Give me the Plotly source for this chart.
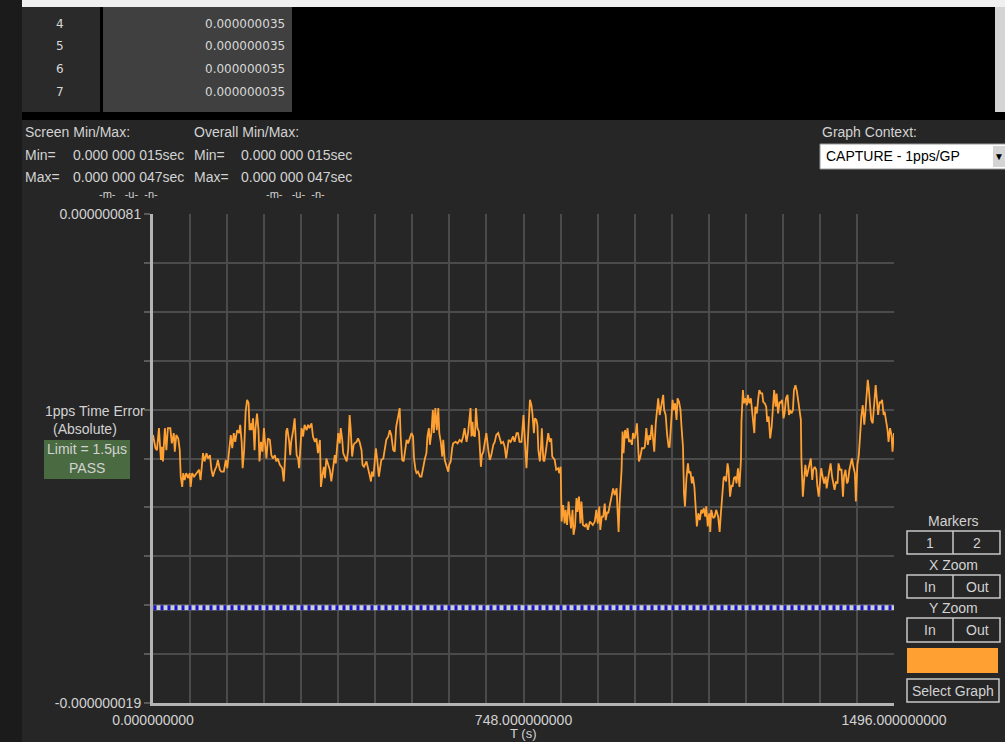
import plotly.graph_objects as go

W, H = 1005, 742

# ---------------- data ----------------
t_s = [0, 2, 5, 8, 10, 12, 16, 18, 20, 24, 27, 30, 35, 38, 42, 44, 47, 51, 54, 56, 59, 61, 64, 67, 71, 74, 76, 79, 83, 88,
       93, 96, 98, 101, 104, 108, 111, 115, 118, 121, 125, 128, 131, 135, 138, 143, 147, 150, 152, 155, 157, 160, 163, 166,
       170, 174, 176, 179, 181, 184, 187, 190, 193, 195, 197, 199, 202, 205, 207, 210, 213, 215, 218, 221, 224, 226, 229,
       232, 236, 239, 242, 246, 249, 252, 256, 261, 264, 267, 269, 271, 275, 277, 279, 283, 286, 290, 293, 295, 298, 300,
       303, 306, 310, 313, 316, 320, 323, 327, 330, 333, 337, 339, 342, 345, 347, 350, 353, 357, 360, 364, 367,
       369, 374, 377, 379, 382, 384, 387, 391, 394, 397, 399, 402, 405, 407, 411, 414, 417, 421, 423, 426, 431, 434, 438,
       440, 442, 445, 448, 450, 453, 456, 458, 461, 465, 468, 471, 475, 478, 481, 485, 488, 491, 495, 498, 500, 503, 506,
       508, 512, 515, 518, 522, 525, 527, 530, 532, 535, 539, 542, 545, 549, 552, 554, 557, 559, 562, 565, 567, 570, 573,
       576, 578, 581, 584, 586, 589, 592, 596, 598, 601, 604, 606, 611, 615, 619, 623, 626, 629, 633, 636, 639, 641, 643,
       645, 647, 650, 652, 655, 658, 660, 662, 664, 667, 670, 673, 677, 680, 683, 687, 690, 693, 697, 700, 703, 707, 710,
       713, 716, 718, 722, 727, 730, 734, 737, 740,
       744, 748, 751, 754, 756, 759, 761, 764, 766, 769, 771, 774, 776, 778, 781, 783, 785, 788, 790, 793, 796, 798, 801,
       804, 806, 808, 811, 814, 818, 820, 823, 825, 828, 831, 833, 836, 839, 841, 844, 847, 849, 852, 855, 857, 860, 863,
       865, 868, 872, 875, 878, 882, 885, 888, 892, 895, 898, 901, 903, 906, 909, 912, 914, 917, 919, 922, 926, 929, 932,
       936, 938, 940, 942, 946, 948, 950, 953, 956, 958, 961, 964, 967, 969, 972, 975, 977, 979, 981, 984, 987, 991, 993,
       996, 999, 1002, 1004, 1007, 1010, 1012, 1015, 1018, 1020, 1023, 1026, 1030, 1032, 1035, 1038, 1041, 1043, 1046,
       1049, 1051, 1054, 1057, 1059, 1062, 1065, 1067, 1070, 1072, 1074, 1077, 1080, 1082, 1085, 1088, 1090, 1093, 1096,
       1098, 1101, 1104, 1107, 1109, 1112, 1115, 1117, 1120, 1123,
       1125, 1127, 1131, 1134, 1137, 1141, 1144, 1146, 1149, 1152, 1154, 1157, 1160, 1162, 1165, 1168, 1170, 1173, 1176,
       1178, 1181, 1184, 1187, 1188, 1191, 1193, 1196, 1199, 1201, 1204, 1207, 1209, 1212, 1214, 1216, 1219, 1222, 1224,
       1227, 1230, 1232, 1235, 1238, 1240, 1243, 1246, 1249, 1251, 1254, 1257, 1259, 1262, 1265, 1267, 1270, 1273, 1275,
       1278, 1281, 1284, 1286, 1289, 1292, 1294, 1297, 1300, 1302, 1305, 1308, 1309, 1312, 1314, 1317, 1320, 1323, 1325,
       1328, 1331, 1333, 1336, 1339, 1341, 1344, 1347, 1349, 1352, 1355, 1358, 1360, 1363, 1366, 1368, 1371, 1374, 1376,
       1379, 1382, 1384, 1387, 1390, 1393, 1395, 1398, 1401, 1403, 1406, 1409, 1411, 1414, 1417, 1419, 1422, 1425, 1428,
       1430, 1433, 1436, 1438, 1441, 1443, 1445, 1448, 1450, 1453, 1456, 1459, 1461, 1464, 1467, 1469, 1472, 1475, 1477,
       1480, 1483, 1485, 1488, 1491, 1493, 1495, 1496]

err_ns = [35.8, 34.4, 33.1, 32.7, 35.1, 37.2, 30.7, 33.4, 30.4, 37.2, 32.7, 37.2, 37.2, 34.1, 36.2, 32.4, 35.8, 35.1, 32.7,
          27.3, 25.2, 28.0, 26.6, 28.0, 27.0, 28.0, 25.2, 28.0, 27.3, 28.0, 28.7, 26.6, 29.3, 32.1, 30.4, 32.1, 31.0, 31.7,
          28.7, 27.3, 28.7, 29.3, 30.7, 28.7, 28.3, 28.3, 30.7, 29.0, 31.0, 33.8, 35.8, 33.1, 36.2, 34.4, 36.8, 36.2, 37.9,
          34.4, 29.0, 32.7, 40.6, 43.0, 42.3, 36.8, 38.2, 36.8, 39.2, 32.7, 37.2, 40.2, 36.8, 30.4, 34.4, 32.4, 37.2, 34.4,
          31.0, 35.1, 34.8, 31.7, 31.0, 31.7, 30.4, 31.0, 29.7, 29.0, 26.3, 31.7, 36.5, 37.2, 34.4, 31.7, 34.4, 36.8, 39.2,
          31.7, 31.0, 29.0, 34.4, 37.2, 35.5, 37.9, 36.8, 37.9, 37.2, 38.2, 35.5, 34.4, 35.1, 32.1, 34.8, 25.2, 27.6, 29.3,
          27.0, 31.0, 30.0, 28.7, 26.3, 29.0, 31.7,
          30.0, 36.2, 34.1, 37.2, 34.8, 32.1, 31.4, 30.4, 32.7, 39.9, 37.2, 31.4, 33.8, 34.1, 34.4, 35.1, 34.4, 32.7, 29.7,
          29.3, 30.4, 29.3, 27.3, 26.3, 28.3, 27.3, 31.0, 33.1, 30.4, 27.3, 28.7, 30.7, 31.0, 33.4, 34.8, 35.5, 36.8, 35.8,
          32.7, 32.4, 37.5, 39.6, 41.3, 35.5, 30.7, 30.4, 31.7, 34.8, 34.1, 35.1, 36.2, 35.5, 31.0, 28.7, 28.0, 28.3, 27.3,
          27.3, 29.3, 31.0, 32.1, 35.5, 37.2, 33.8, 36.2, 40.9, 36.2, 41.3, 36.8, 41.3, 36.2, 34.4, 31.4, 34.8, 30.7, 29.7,
          28.3, 29.7, 30.4, 33.1, 34.1, 34.4, 34.1, 34.8, 34.4, 35.5, 37.2, 34.4, 36.2, 39.2, 41.3, 35.5, 38.5, 35.8, 35.5,
          41.3, 37.2, 36.5, 32.7, 29.3, 31.7, 32.4, 34.4, 36.2, 32.7, 30.7, 31.7, 33.8, 34.4, 35.8, 36.2, 34.8, 34.1, 34.4,
          33.4, 31.0, 34.1, 34.8, 34.4, 35.5, 34.4, 36.2, 36.2, 34.4,
          34.4, 39.9, 34.4, 29.0, 33.1, 40.6, 43.0, 41.9, 40.2, 36.2, 39.2, 38.9, 37.9, 32.7, 30.4, 32.7, 37.2, 30.7, 30.4,
          32.4, 34.8, 36.2, 34.4, 35.1, 31.4, 31.0, 30.7, 28.7, 29.0, 28.0, 29.3, 18.1, 21.5, 17.7, 20.5, 17.4, 22.2, 19.8,
          16.7, 20.5, 15.4, 17.1, 22.9, 20.1, 23.2, 17.7, 22.2, 17.4, 17.1, 17.7, 16.4, 18.1, 17.7, 17.4, 18.1, 20.5, 17.7,
          21.2, 16.4, 19.1, 19.1, 21.8, 18.4, 20.1, 19.8, 21.5, 22.9, 24.9, 23.5, 24.9, 20.1, 16.0, 21.8, 28.7, 36.5, 32.1,
          36.8, 35.1, 37.2, 34.4, 34.8, 33.8, 36.2, 35.1, 36.5, 38.2, 34.4, 30.4, 31.4, 33.1, 33.1, 33.4, 37.2, 33.8, 35.8,
          34.8, 37.9, 34.4, 32.4, 38.2, 40.9, 43.3, 39.9, 41.6, 44.0, 40.9, 39.9, 35.8, 33.4, 33.4, 39.6, 43.0, 40.9, 42.3,
          38.9, 43.3, 42.6, 40.9, 37.5, 33.4, 23.9, 21.2, 27.0, 30.0, 28.0, 28.3, 25.9, 27.3, 25.2, 19.1, 17.1, 19.8, 18.4,
          20.5, 19.8, 20.8, 19.1, 21.2, 17.1, 19.8,
          16.0, 20.5, 18.8, 19.1, 20.5, 19.1, 16.0, 19.1, 22.5, 27.0, 27.3, 26.3, 30.0, 28.7, 23.2, 25.6, 25.2, 27.0, 27.3,
          25.9, 29.0, 25.2, 30.7, 38.5, 45.0, 42.3, 43.3, 41.9, 44.0, 42.3, 43.3, 40.9, 38.2, 36.2, 41.6, 40.2, 43.3, 45.0,
          44.3, 44.3, 42.6, 42.3, 41.6, 38.5, 39.6, 35.1, 37.5, 39.9, 45.0, 41.6, 44.3, 40.2, 42.6, 42.3, 43.0, 39.2, 40.2,
          43.3, 44.0, 39.9, 40.9, 40.2, 40.9, 45.0, 46.0, 44.7, 43.3, 41.6, 38.9, 31.0, 23.2, 25.9, 29.7, 27.3, 28.7, 29.7,
          31.0, 26.6, 28.7, 29.3, 28.7, 25.6, 23.2, 26.6, 29.0, 27.3, 25.9, 27.3, 24.9, 27.0, 28.7, 30.0, 27.3, 25.2, 24.6,
          26.3, 25.9, 30.0, 28.7, 28.7, 23.2, 27.3, 28.7, 25.9, 26.3, 28.7, 30.4, 31.0, 29.3, 28.0, 22.2, 29.7, 31.7, 37.2,
          39.6, 41.9, 37.9, 40.2, 45.0, 47.1, 45.4, 40.9, 38.9, 38.2, 42.3, 46.0, 43.6, 39.9, 42.6, 42.3, 43.0, 39.9, 40.6,
          38.9, 36.8, 34.4, 37.2, 35.8, 32.4, 35.1, 36.2]

ref_level_ns = [0.5]          # blue/white reference line
y_min_ns, y_max_ns = -19, 81  # screen range
x_max_s = 1496

table_rows = ["4", "5", "6", "7"]
table_vals = ["0.000000035", "0.000000035", "0.000000035", "0.000000035"]

y_grid = [(y_min_ns + 10 * i) * 1e-9 for i in range(11)]
y_text = ["-0.000000019"] + [""] * 9 + ["0.000000081"]
x_grid = [x_max_s * i / 20 for i in range(21)]
x_text = ["" for _ in range(21)]
x_text[0], x_text[10], x_text[20] = "0.000000000", "748.000000000", "1496.000000000"

# ---------------- figure ----------------
FONT = "Liberation Sans, Arial, sans-serif"
TXT = "#d2d2d2"
ORANGE = "#ffa033"

def X(px):
    return px / W

def Y(py):
    return 1 - py / H

fig = go.Figure()
ref_y = [ref_level_ns[0] * 1e-9] * 2
fig.add_trace(go.Scatter(x=[1, x_max_s], y=ref_y, mode="lines",
                         line=dict(color="#cfcfcf", width=5), hoverinfo="skip", showlegend=False))
fig.add_trace(go.Scatter(x=[1, x_max_s], y=ref_y, mode="lines",
                         line=dict(color="#1414c8", width=5, dash="3px,4px"), hoverinfo="skip", showlegend=False))
fig.add_trace(go.Scatter(x=t_s, y=[v * 1e-9 for v in err_ns], mode="lines",
                         line=dict(color=ORANGE, width=1.8), showlegend=False))

shapes = []

def rect(x0, y0, x1, y1, fill=None, line=None, lw=1):
    shapes.append(dict(type="rect", xref="paper", yref="paper",
                       x0=X(x0), x1=X(x1), y0=Y(y1), y1=Y(y0),
                       fillcolor=fill if fill else "rgba(0,0,0,0)",
                       line=dict(color=line if line else "rgba(0,0,0,0)", width=lw if line else 0),
                       layer="below" if fill and not line else "above"))

def vline(x, y0, y1, color, lw=1):
    shapes.append(dict(type="line", xref="paper", yref="paper", x0=X(x), x1=X(x), y0=Y(y0), y1=Y(y1),
                       line=dict(color=color, width=lw)))

# top table area
rect(0, 0, W, 120, fill="#000000")
rect(22, 0, W, 7, fill="#f0f0f0")
rect(22, 7, 100, 112, fill="#2a2a2a")
rect(103, 7, 292, 112, fill="#404040")
rect(995, 7, W, 112, fill="#d4d4d4")
# left strip
rect(0, 120, 22, H, fill="#1b1b1b")
rect(0, 0, 22, 120, fill="#1b1b1b")

# dropdown
rect(820, 144, W, 169, fill="#ffffff")
rect(820, 144, W + 2, 169, line="#9a9a9a", lw=1)
rect(993, 146, W, 167, fill="#d4d4d4")

# green limit box
rect(44, 440, 130, 479, fill="#4a6a42")

# right-hand buttons
for (y0, y1) in [(531, 554), (575, 598), (618, 642)]:
    rect(907, y0, 1000, y1, line="#c8c8c8", lw=1.5)
    vline(953, y0, y1, "#c8c8c8", 1.5)
rect(907, 648, 998, 673, fill=ORANGE)
rect(907, 679, 999, 702, line="#c8c8c8", lw=1.5)

annotations = []

def text(s, x, y, size=14, color=TXT, anchor="left", family=FONT):
    annotations.append(dict(text=s, x=X(x), y=Y(y), xref="paper", yref="paper", showarrow=False,
                            xanchor=anchor, yanchor="middle", font=dict(family=family, size=size, color=color)))

TFONT = "DejaVu Sans, Verdana, sans-serif"
row_y = [24, 46, 69, 92]
for r, v, y in zip(table_rows, table_vals, row_y):
    text(r, 60, y, size=12, color="#d8d8d8", anchor="center", family=TFONT)
    text(v, 287, y, size=12, color="#d8d8d8", anchor="right", family=TFONT)

text("Screen Min/Max:", 23, 132)
text("Overall Min/Max:", 192, 132)
text("Min=", 23, 155)
text("0.000 000 015sec", 71, 155)
text("Max=", 23, 177)
text("0.000 000 047sec", 71, 177)
text("Min=", 192, 155)
text("0.000 000 015sec", 239, 155)
text("Max=", 192, 177)
text("0.000 000 047sec", 239, 177)
text("-m-   -u-  -n-", 97, 194, size=11)
text("-m-   -u-  -n-", 264, 194, size=11)
text("Graph Context:", 820, 132)
text("CAPTURE - 1pps/GP", 824, 156, color="#000000")
text("▼", 999, 156, size=10, color="#000000", anchor="center")

text("1pps Time Error", 95, 411, anchor="center")
text("(Absolute)", 85, 429, anchor="center")
text("Limit = 1.5µs", 87, 449, anchor="center")
text("PASS", 87, 468, anchor="center")

text("Markers", 953, 521, anchor="center")
text("1", 930, 543, anchor="center")
text("2", 977, 543, anchor="center")
text("X Zoom", 953, 565, anchor="center")
text("In", 930, 587, anchor="center")
text("Out", 977, 587, anchor="center")
text("Y Zoom", 953, 608, anchor="center")
text("In", 930, 630, anchor="center")
text("Out", 977, 630, anchor="center")
text("Select Graph", 953, 691, anchor="center")

text("T (s)", 523, 733, size=13, anchor="center")

fig.update_layout(
    width=W, height=H,
    margin=dict(l=0, r=0, t=0, b=0, autoexpand=False),
    paper_bgcolor="#262626",
    plot_bgcolor="#262626",
    shapes=shapes,
    annotations=annotations,
    showlegend=False,
    font=dict(family=FONT, size=14, color=TXT),
    xaxis=dict(domain=[X(153), X(894)], range=[0, x_max_s], tickmode="array",
               tickvals=x_grid, ticktext=x_text, showgrid=True, gridcolor="#4b4b4b", gridwidth=2,
               zeroline=False, showline=True, linecolor="#b4b4b4", linewidth=3, automargin=False,
               ticks="", tickfont=dict(family=FONT, size=14, color=TXT), ticklabelstandoff=2),
    yaxis=dict(domain=[Y(703), Y(214)], range=[y_min_ns * 1e-9, y_max_ns * 1e-9], tickmode="array",
               tickvals=y_grid, ticktext=y_text, showgrid=True, gridcolor="#4b4b4b", gridwidth=2,
               zeroline=False, showline=True, linecolor="#b4b4b4", linewidth=3, automargin=False,
               ticks="outside", ticklen=6, tickcolor="#5a5a5a", tickwidth=2,
               tickfont=dict(family=FONT, size=14, color=TXT), ticklabelstandoff=0),
)

fig.write_html("out.html")
